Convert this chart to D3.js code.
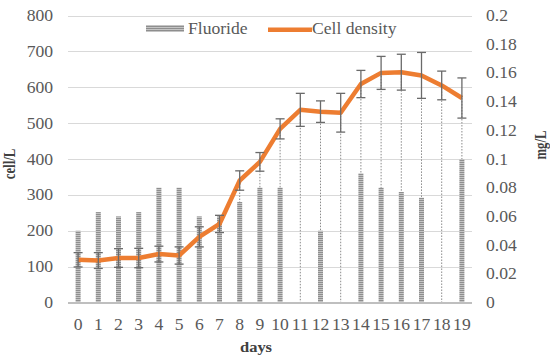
<!DOCTYPE html>
<html>
<head>
<meta charset="utf-8">
<script src="https://cdn.jsdelivr.net/npm/d3@7"></script>
<style>
  html, body { margin: 0; padding: 0; background: #fff; }
  svg { display: block; }
</style>
</head>
<body>
<svg id="chart" width="550" height="361"></svg>
<script>
const days = ["0","1","2","3","4","5","6","7","8","9","10","11","12","13","14","15","16","17","18","19"];
const fluoride = [0.05,0.063,0.06,0.063,0.08,0.08,0.06,0.06,0.07,0.08,0.08,0,0.05,0,0.09,0.08,0.077,0.073,0,0.1];
const cellDensity = [119,117,124,124,135,131,183,219,340,392,484,537,532,529,609,640,642,633,605,570];
const cellError = [20,22,26,27,22,24,28,24,27,26,28,46,30,54,38,46,50,64,40,56];
const leftTicks = [0,100,200,300,400,500,600,700,800];
const rightTicks = [0,0.02,0.04,0.06,0.08,0.1,0.12,0.14,0.16,0.18,0.2];
const seriesNames = ["Fluoride","Cell density"];
const axisTitles = { left: "cell/L", right: "mg/L", bottom: "days" };

const svg = d3.select("#chart");
const L = 68, R = 472, T = 15.5, B = 302.5;

const x = d3.scaleBand().domain(days).range([L, R]).padding(0);
const yL = d3.scaleLinear().domain([0, 800]).range([B, T]);
const yR = d3.scaleLinear().domain([0, 0.2]).range([B, T]);
const cx = d => x(d) + x.bandwidth() / 2;

const defs = svg.append("defs");
const pat = defs.append("pattern").attr("id", "hatch")
  .attr("patternUnits", "userSpaceOnUse").attr("width", 4).attr("height", 2);
pat.append("rect").attr("width", 4).attr("height", 2).attr("fill", "#c4c4c4");
pat.append("rect").attr("width", 4).attr("height", 1).attr("fill", "#8e8e8e");

const textCol = "#595959";
const FONT = "'Liberation Serif', 'Times New Roman', serif";
function label(g, px, py, s, anchor, sx, sy, rot, size, weight, col) {
  g.append("text")
    .attr("transform", `translate(${px},${py}) rotate(${rot || 0}) scale(${sx},${sy})`)
    .attr("text-anchor", anchor)
    .attr("font-family", FONT)
    .attr("font-size", size || 16)
    .attr("font-weight", weight || "normal")
    .attr("fill", col || textCol)
    .text(s);
}

// gridlines
svg.append("g").selectAll("line").data(leftTicks.filter(v => v > 0)).join("line")
  .attr("x1", L).attr("x2", R)
  .attr("y1", d => Math.round(yL(d)) + 0.5).attr("y2", d => Math.round(yL(d)) + 0.5)
  .attr("stroke", "#d9d9d9").attr("stroke-width", 1);

// drop lines
svg.append("g").selectAll("line").data(days).join("line")
  .attr("x1", d => cx(d)).attr("x2", d => cx(d))
  .attr("y1", (d, i) => yL(cellDensity[i])).attr("y2", B)
  .attr("stroke", "#8a8a8a").attr("stroke-width", 1).attr("stroke-dasharray", "1.5,1.5");

// bars
const bw = 5;
svg.append("g").selectAll("rect").data(days).join("rect")
  .attr("x", d => cx(d) - bw / 2).attr("width", bw)
  .attr("y", (d, i) => yR(fluoride[i])).attr("height", (d, i) => B - yR(fluoride[i]))
  .attr("fill", "url(#hatch)");

// baseline
svg.append("line").attr("x1", L).attr("x2", R).attr("y1", B + 0.5).attr("y2", B + 0.5)
  .attr("stroke", "#bfbfbf").attr("stroke-width", 2);

// line
const line = d3.line().x(d => cx(d)).y((d, i) => yL(cellDensity[i]));
svg.append("path").datum(days).attr("d", line)
  .attr("fill", "none").attr("stroke", "#ED7D31").attr("stroke-width", 4.5)
  .attr("stroke-linejoin", "round");

// error bars
const eb = svg.append("g").attr("stroke", "#6a6a6a").attr("stroke-width", 1.3);
days.forEach((d, i) => {
  const hi = yL(cellDensity[i] + cellError[i]), lo = yL(cellDensity[i] - cellError[i]);
  const c = cx(d);
  eb.append("line").attr("x1", c).attr("x2", c).attr("y1", hi).attr("y2", lo);
  eb.append("line").attr("x1", c - 4.5).attr("x2", c + 4.5).attr("y1", hi).attr("y2", hi);
  eb.append("line").attr("x1", c - 4.5).attr("x2", c + 4.5).attr("y1", lo).attr("y2", lo);
});

// tick labels
const tg = svg.append("g");
leftTicks.forEach(v => label(tg, 53, yL(v) + 5.5, String(v), "end", 1.1, 1));
rightTicks.forEach(v => label(tg, 486, yR(v) + 5.5, String(+v.toFixed(2)), "start", 1.1, 1));
days.forEach(d => label(tg, cx(d), 329.5, d, "middle", 1.1, 1));

// axis titles
label(tg, 15, 164, axisTitles.left, "middle", 0.85, 1.1, -90, 15, "bold", "#404040");
label(tg, 546, 145, axisTitles.right, "middle", 0.85, 1.1, -90, 15, "bold", "#404040");
label(tg, 256, 352, axisTitles.bottom, "middle", 1.1, 1, 0, 15, "bold", "#404040");

// legend
svg.append("rect").attr("x", 146).attr("y", 25).attr("width", 38).attr("height", 7).attr("fill", "url(#hatch)");
label(tg, 188, 34, seriesNames[0], "start", 1.1, 1);
svg.append("line").attr("x1", 268).attr("x2", 312).attr("y1", 29.7).attr("y2", 29.7)
  .attr("stroke", "#ED7D31").attr("stroke-width", 4.5);
label(tg, 312, 34, seriesNames[1], "start", 1.1, 1);
</script>
</body>
</html>
